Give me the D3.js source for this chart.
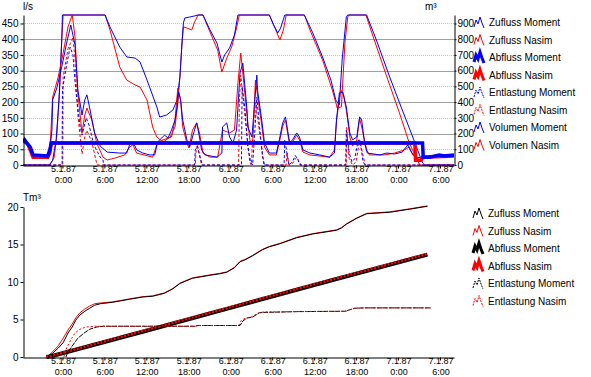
<!DOCTYPE html>
<html>
<head>
<meta charset="utf-8">
<script src="https://cdn.jsdelivr.net/npm/d3@7"></script>
<style>
    body { margin: 0; background: #fff; }
    svg { font-family: "Liberation Sans", Arial, sans-serif; font-size: 10px; }
</style>
</head>
<body>
<svg id="chart" width="591" height="377"></svg>
<script>
// time axis in hours from 5.1.87 0:00
var xTickHours = [0, 6, 12, 18, 24, 30, 36, 42, 48, 54];
var xTickDates = ["5.1.87", "5.1.87", "5.1.87", "5.1.87", "6.1.87", "6.1.87", "6.1.87", "6.1.87", "7.1.87", "7.1.87"];
var xTickTimes = ["0:00", "6:00", "12:00", "18:00", "0:00", "6:00", "12:00", "18:00", "0:00", "6:00"];
var flowTicks = [0, 50, 100, 150, 200, 250, 300, 350, 400, 450];
var volTicks = [0, 100, 200, 300, 400, 500, 600, 700, 800, 900];
var cumTicks = [0, 5, 10, 15, 20];

// top chart: [hour, l/s] and [hour, m3]
var zuflussMoment = [[-5.6,73],[-5.4,80],[-5.1,70],[-4.6,57],[-4.2,32],[-3.2,29],[-2.1,32],[-1.8,48],[-1.5,111],[-1.4,207],[-0.8,245],[-0.1,312],[0.6,388],[1.2,445],[1.5,413],[1.8,382],[2.2,239],[2.8,159],[3.2,207],[3.5,223],[3.9,181],[4.6,102],[5.4,60],[6.4,41],[8.2,38],[9.2,38],[9.6,64],[9.9,73],[10.4,60],[10.6,48],[11.5,38],[12.5,32],[13.2,32],[13.6,73],[14.2,86],[14.6,95],[15.1,86],[15.6,111],[16.1,143],[16.4,184],[16.6,232],[16.9,207],[17.2,143],[17.8,80],[18.2,57],[18.6,89],[19.2,134],[19.6,89],[19.9,48],[20.4,32],[22.1,25],[22.8,38],[22.9,121],[23.5,134],[23.9,89],[24.4,70],[24.9,111],[25.4,293],[25.8,324],[26.1,248],[26.4,175],[26.5,121],[27.1,89],[27.8,286],[27.9,239],[28.5,143],[28.9,70],[29.6,38],[30.6,38],[31.1,89],[31.5,134],[31.9,153],[32.2,111],[32.5,70],[32.9,80],[33.5,102],[33.9,89],[34.4,48],[35.4,38],[36.8,32],[38.2,25],[38.9,38],[39.2,143],[39.6,229],[40.1,232],[40.6,184],[41.1,102],[41.5,80],[42.1,89],[42.5,153],[42.8,143],[43.2,70],[43.6,38],[45.4,32],[46.4,38],[47.5,35],[48.6,41],[49.4,64],[49.9,41],[50.6,25],[51.5,22],[52.5,29],[53.9,32],[56.0,32]];
var zuflussNasim = [[-5.6,70],[-5.4,76],[-4.9,64],[-4.2,25],[-2.1,25],[-1.8,38],[-1.4,216],[-0.6,280],[0.1,356],[0.8,439],[1.4,477],[1.5,461],[1.8,407],[2.2,229],[2.8,102],[3.2,159],[3.5,181],[4.2,143],[4.9,70],[5.8,25],[6.4,16],[7.5,22],[8.9,32],[9.6,57],[10.1,64],[10.6,38],[12.9,25],[13.6,70],[14.4,80],[15.6,89],[16.1,143],[16.5,245],[16.9,207],[17.2,121],[17.8,70],[18.1,54],[18.6,111],[19.2,134],[19.6,102],[20.1,38],[21.1,25],[22.2,25],[22.9,111],[23.9,102],[24.6,111],[25.1,261],[25.5,356],[25.9,270],[26.4,159],[26.8,80],[27.2,64],[27.6,270],[27.9,223],[28.5,127],[28.9,57],[29.6,32],[30.6,32],[31.1,80],[31.5,124],[31.9,143],[32.2,102],[32.5,64],[32.9,73],[33.5,95],[33.9,80],[34.4,41],[35.4,32],[38.2,25],[38.9,48],[39.2,143],[39.8,239],[40.2,223],[40.6,175],[41.1,89],[41.5,60],[42.1,80],[42.5,149],[42.9,111],[43.5,48],[43.9,32],[46.1,32],[47.5,38],[48.9,48],[49.6,57],[50.1,32],[50.6,22],[51.2,16],[52.5,25],[56.0,29]];
var abflussMoment = [[-5.6,73],[-5.4,80],[-5.1,70],[-4.6,57],[-4.2,32],[-2.1,29],[-1.8,48],[-1.6,70],[51.5,70],[51.6,25],[52.5,25],[53.9,32],[54.6,29],[56.0,32]];
var abflussNasim = [[-5.6,70],[-5.4,76],[-4.9,64],[-4.2,25],[-2.1,25],[-1.8,38],[-1.6,70],[50.4,70],[50.5,15],[51.3,15],[51.5,25],[56.0,29]];
var entlastungMoment = [[-5.6,0],[-0.05,0],[0.0,240],[0.6,318],[1.1,375],[1.5,350],[1.9,239],[2.5,127],[2.8,95],[3.4,150],[3.8,127],[4.5,64],[5.4,25],[5.8,16],[5.9,0],[18.9,0],[19.0,48],[19.3,60],[19.7,25],[20.0,0],[25.6,0],[25.7,250],[26.1,180],[26.5,60],[26.9,10],[27.2,0],[27.5,100],[27.8,215],[28.2,120],[28.6,30],[28.9,0],[31.7,0],[31.8,80],[32.1,40],[32.4,0],[32.9,10],[33.3,30],[33.6,20],[34.0,0],[40.5,0],[40.6,110],[41.0,40],[41.4,10],[41.8,20],[42.3,80],[42.6,70],[43.0,10],[43.3,0],[56.0,0]];
var entlastungNasim = [[-5.6,0],[0.05,0],[0.1,280],[0.8,370],[1.5,405],[1.8,337],[2.2,160],[2.8,35],[3.2,90],[3.5,110],[4.2,73],[4.9,5],[5.0,0],[19.0,0],[19.1,40],[19.3,65],[19.6,30],[19.9,0],[25.2,0],[25.3,200],[25.5,286],[25.9,200],[26.4,90],[26.8,10],[27.0,0],[27.4,150],[27.6,200],[27.9,150],[28.5,57],[28.8,0],[32.0,0],[32.1,40],[32.4,0],[32.9,5],[33.5,25],[33.9,10],[34.1,0],[40.6,0],[40.65,120],[41.0,20],[41.5,0],[42.0,10],[42.5,80],[42.9,40],[43.3,0],[56.0,0]];
var volumenMoment = [[-5.6,0],[-1.9,0],[-1.4,30],[-0.9,160],[-0.5,410],[-0.1,795],[0.0,954],[6.1,954],[6.8,878],[8.2,750],[9.2,687],[10.4,680],[11.1,655],[12.1,540],[13.5,369],[13.9,305],[14.9,318],[15.8,350],[16.4,413],[16.8,560],[17.1,776],[17.3,903],[17.5,935],[18.2,941],[18.9,948],[19.4,954],[20.1,954],[21.1,859],[22.1,776],[22.8,655],[23.2,700],[23.9,744],[24.6,827],[25.1,954],[29.6,954],[30.2,890],[30.8,840],[31.2,871],[31.8,954],[34.6,954],[35.8,840],[37.2,687],[38.4,540],[39.1,413],[39.6,382],[40.0,668],[40.6,941],[40.8,954],[43.5,954],[44.9,795],[46.8,560],[48.6,350],[50.1,178],[51.5,13],[51.8,0],[56.0,0]];
var volumenNasim = [[-5.6,0],[-1.8,0],[-1.2,45],[-0.8,190],[-0.4,477],[-0.1,795],[0.1,954],[6.1,954],[6.8,859],[8.2,623],[9.2,540],[10.4,509],[11.1,496],[12.1,413],[12.9,242],[13.5,178],[14.4,146],[15.4,178],[16.1,242],[16.5,394],[16.8,560],[17.1,776],[17.3,878],[17.8,871],[18.5,859],[18.9,910],[19.4,954],[20.1,954],[21.1,846],[22.2,731],[22.8,591],[23.5,680],[24.2,750],[24.9,871],[25.3,954],[29.6,954],[30.4,871],[31.1,795],[31.6,859],[32.0,954],[34.6,954],[35.4,859],[37.2,668],[38.6,477],[39.3,363],[39.9,369],[40.4,776],[40.8,941],[41.0,954],[43.4,954],[44.6,795],[46.4,560],[48.2,331],[49.6,140],[51.1,0],[56.0,0]];

// bottom chart: cumulative [hour, Tm3]
var sumZuflussMoment = [[-2.2,0],[-1.4,0.5],[-0.6,1.2],[0.1,1.9],[0.8,3.2],[1.4,4.0],[1.9,4.9],[2.5,5.6],[3.2,6.1],[3.9,6.5],[4.6,6.9],[5.4,7.1],[7.2,7.3],[9.6,7.7],[11.5,8.0],[12.9,8.1],[14.6,8.5],[15.8,9.1],[16.8,9.8],[18.6,10.5],[21.1,10.9],[22.5,11.1],[23.5,11.3],[24.6,11.9],[25.4,12.7],[26.1,12.95],[27.2,13.5],[28.6,14.3],[29.6,14.7],[31.1,15.1],[33.5,15.9],[35.8,16.4],[39.2,16.9],[39.9,17.2],[40.6,17.7],[42.1,18.5],[43.5,19.1],[46.8,19.3],[49.6,19.7],[52.2,20.1]];
var sumZuflussNasim = [[-2.2,0],[-1.4,0.7],[-0.6,1.5],[0.1,2.5],[0.8,3.6],[1.4,4.4],[1.9,5.2],[2.5,5.9],[3.2,6.4],[3.9,6.8],[4.6,7.1],[5.4,7.2],[7.2,7.35],[9.6,7.75],[11.5,8.05],[12.9,8.15],[14.6,8.55],[15.8,9.15],[16.8,9.85],[18.6,10.55],[21.1,10.95],[22.5,11.15],[23.5,11.35],[24.6,11.95],[25.4,12.75],[26.1,13.0],[27.2,13.55],[28.6,14.35],[29.6,14.75],[31.1,15.15],[33.5,15.95],[35.8,16.45],[39.2,16.95],[39.9,17.25],[40.6,17.75],[42.1,18.55],[43.5,19.15],[46.8,19.35],[49.6,19.75],[52.2,20.15]];
var sumAbflussMoment = [[-2.3,0],[-1.6,0.1],[12,3.5],[24,6.55],[36,9.6],[52.2,13.65]];
var sumAbflussNasim = [[-2.3,0],[-1.6,0.15],[12,3.6],[24,6.65],[36,9.7],[52.2,13.75]];
var sumEntlastungMoment = [[0.5,0],[0.8,0.7],[1.5,1.6],[2.2,2.5],[3.1,3.2],[3.9,3.7],[4.9,4.0],[5.8,4.1],[18.9,4.1],[19.4,4.2],[25.4,4.2],[25.8,4.8],[26.4,5.2],[27.1,5.3],[27.5,5.5],[28.2,5.9],[28.8,5.95],[31.6,6.0],[33.5,6.05],[40.4,6.1],[41.1,6.3],[41.8,6.5],[43.2,6.55],[52.7,6.55]];
var sumEntlastungNasim = [[0.2,0],[0.6,1.2],[1.2,2.3],[1.8,3.2],[2.5,3.7],[3.4,4.0],[4.6,4.1],[19.0,4.1],[19.5,4.2],[25.2,4.2],[25.6,4.9],[26.2,5.2],[27.0,5.35],[27.5,5.6],[28.2,5.95],[28.8,6.0],[32.0,6.05],[40.6,6.1],[41.2,6.35],[41.8,6.5],[43.2,6.55],[52.7,6.55]];

var topLegend = ["Zufluss Moment", "Zufluss Nasim", "Abfluss Moment", "Abfluss Nasim", "Entlastung Moment", "Entlastung Nasim", "Volumen Moment", "Volumen Nasim"];
var bottomLegend = ["Zufluss Moment", "Zufluss Nasim", "Abfluss Moment", "Abfluss Nasim", "Entlastung Moment", "Entlastung Nasim"];

var svg = d3.select("#chart");

var x = d3.scaleLinear().domain([-5.64, 56.0]).range([23, 454]);
var yFlow = d3.scaleLinear().domain([0, 477]).range([165, 15]);
var yVol = d3.scaleLinear().domain([0, 954]).range([165, 15]);
var yCum = d3.scaleLinear().domain([0, 20]).range([357, 207]);

var BLUE = "#0000ff", RED = "#ff0000";

svg.append("clipPath").attr("id", "clipTop")
    .append("rect").attr("x", 23).attr("y", 13).attr("width", 432).attr("height", 153);

// grid lines of the upper chart
svg.append("g").selectAll("line")
    .data(flowTicks.filter(function(d) { return d > 0; }))
    .enter().append("line")
    .attr("x1", 23).attr("x2", 454)
    .attr("y1", function(d) { return Math.round(yFlow(d)) + 0.5; })
    .attr("y2", function(d) { return Math.round(yFlow(d)) + 0.5; })
    .attr("stroke", function(d) { return d % 100 == 0 ? "#a0a0a0" : "#c4c4c4"; })
    .attr("stroke-dasharray", function(d) { return d % 100 == 0 ? null : "1,1"; });

function drawLine(g, data, yScale, color, width, dash) {
    var line = d3.line()
        .x(function(d) { return x(d[0]); })
        .y(function(d) { return yScale(d[1]); });
    g.append("path")
        .datum(data)
        .attr("d", line)
        .attr("fill", "none")
        .attr("stroke", color)
        .attr("stroke-width", width)
        .attr("stroke-dasharray", dash || null)
        .attr("stroke-linejoin", "miter");
}

var topG = svg.append("g").attr("clip-path", "url(#clipTop)");
drawLine(topG, volumenNasim, yVol, RED, 1);
drawLine(topG, volumenMoment, yVol, BLUE, 1);
drawLine(topG, zuflussNasim, yFlow, RED, 1);
drawLine(topG, zuflussMoment, yFlow, BLUE, 1);
drawLine(topG, entlastungNasim, yFlow, RED, 1, "3,2");
drawLine(topG, entlastungMoment, yFlow, BLUE, 1, "3,2");
drawLine(topG, abflussNasim, yFlow, RED, 3.5);
drawLine(topG, abflussMoment, yFlow, BLUE, 3.5);

var bottomG = svg.append("g");
drawLine(bottomG, sumZuflussNasim, yCum, RED, 1);
drawLine(bottomG, sumZuflussMoment, yCum, "#000", 1);
drawLine(bottomG, sumAbflussMoment, yCum, "#000", 4);
drawLine(bottomG, sumAbflussNasim, yCum, RED, 2.5, "2,1.5");
drawLine(bottomG, sumEntlastungMoment, yCum, "#000", 1, "5,1");
drawLine(bottomG, sumEntlastungNasim, yCum, RED, 1, "2,2");

// axes
function styleAxis(g) {
    g.attr("font-family", null).attr("font-size", null);
    g.selectAll("text").attr("fill", "#000");
    g.selectAll("line").attr("stroke", "#000");
    g.select(".domain").attr("stroke", "#000");
}

svg.append("g").attr("transform", "translate(23.5,0)")
    .call(d3.axisLeft(yFlow).tickValues(flowTicks).tickSize(3).tickSizeOuter(0).tickPadding(2))
    .call(styleAxis);
svg.append("g").attr("transform", "translate(454.5,0)")
    .call(d3.axisRight(yVol).tickValues(volTicks).tickSize(2).tickSizeOuter(0).tickPadding(1))
    .call(styleAxis);
svg.append("g").attr("transform", "translate(0,165.5)")
    .call(d3.axisBottom(x).tickValues(xTickHours).tickSize(3).tickSizeOuter(0).tickFormat(""))
    .call(styleAxis);

svg.append("g").attr("transform", "translate(23.5,0)")
    .call(d3.axisLeft(yCum).tickValues(cumTicks).tickSize(3).tickSizeOuter(0).tickPadding(2))
    .call(styleAxis);
svg.append("g").attr("transform", "translate(0,357.5)")
    .call(d3.axisBottom(x).tickValues(xTickHours).tickSize(3).tickSizeOuter(0).tickFormat(""))
    .call(styleAxis);

// two line date labels under both charts
[[172, 182.5], [364, 374.5]].forEach(function(base) {
    var lab = svg.append("g").attr("text-anchor", "middle").attr("font-size", "9px");
    lab.selectAll("text.d").data(xTickHours).enter().append("text")
        .attr("x", function(d) { return x(d) + 1; }).attr("y", base[0])
        .text(function(d, i) { return xTickDates[i]; });
    lab.selectAll("text.t").data(xTickHours).enter().append("text")
        .attr("x", function(d) { return x(d) + 1; }).attr("y", base[1])
        .text(function(d, i) { return xTickTimes[i]; });
});

svg.append("text").attr("x", 23).attr("y", 10).text("l/s");
svg.append("text").attr("x", 425).attr("y", 10).text("m³");
svg.append("text").attr("x", 23).attr("y", 201).text("Tm³");

// legends
var icon = "M0,11 L2,4 L4,8 L6,1 L8,7 L10,12";
function legend(names, colors, widths, dashes, x0, y0) {
    names.forEach(function(name, i) {
        var cy = y0 + i * 17.5;
        svg.append("path")
            .attr("d", icon)
            .attr("transform", "translate(" + x0 + "," + (cy - 6) + ")")
            .attr("fill", "none")
            .attr("stroke", colors[i])
            .attr("stroke-width", widths[i])
            .attr("stroke-dasharray", dashes[i]);
        svg.append("text").attr("x", x0 + 15).attr("y", cy + 4).text(name);
    });
}
legend(topLegend,
    [BLUE, RED, BLUE, RED, BLUE, RED, BLUE, RED],
    [1, 1, 3, 3, 1, 1, 1, 1],
    [null, null, null, null, "2,1", "2,1", null, null],
    474, 22);
legend(bottomLegend,
    ["#000", RED, "#000", RED, "#000", RED],
    [1, 1, 3, 3, 1, 1],
    [null, null, null, null, "2,1", "2,1"],
    473, 213);
</script>
</body>
</html>
